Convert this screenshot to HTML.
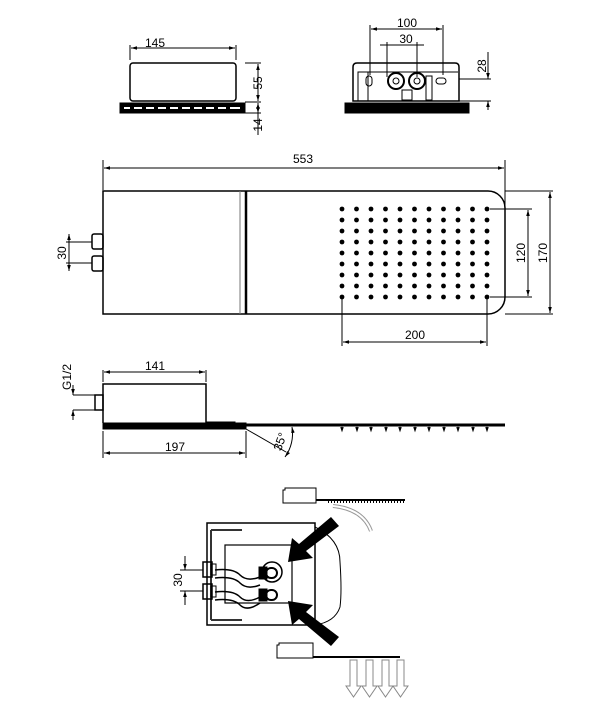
<!DOCTYPE html>
<html><head><meta charset="utf-8"><style>
html,body{margin:0;padding:0;background:#fff;}
svg{display:block}
text{font-family:"Liberation Sans",sans-serif;font-size:12px;fill:#000}
</style></head><body>
<svg width="601" height="718" viewBox="0 0 601 718" xmlns="http://www.w3.org/2000/svg">
<defs>
<marker id="a" viewBox="0 0 10 10" refX="10" refY="5" markerWidth="6" markerHeight="6" orient="auto-start-reverse"><path d="M0,2 L10,5 L0,8 z" fill="#000"/></marker>
<pattern id="dots" x="342" y="209" width="14.5" height="11" patternUnits="userSpaceOnUse"><circle cx="0" cy="0" r="2.4" fill="#000"/><circle cx="14.5" cy="0" r="2.4" fill="#000"/><circle cx="0" cy="11" r="2.4" fill="#000"/><circle cx="14.5" cy="11" r="2.4" fill="#000"/></pattern>
</defs>
<g fill="none" stroke="#000" stroke-width="1">
<rect x="130" y="63" width="106" height="38" rx="3" stroke-width="1.5"/>
<rect x="120" y="103" width="125" height="10" fill="#000"/>
<g stroke="#fff" stroke-width="2"><path d="M124 108h6M134 108h8M146 108h8M158 108h8M170 108h8M182 108h8M194 108h8M206 108h8M218 108h8M230 108h10"/></g>
<path d="M130 45v15M236 45v15M245 63h16M245 102h16M245 113h16"/>
<path d="M131 48H235" marker-start="url(#a)" marker-end="url(#a)"/>
<path d="M258 64V101" marker-start="url(#a)" marker-end="url(#a)"/>
<path d="M258 103V113" marker-start="url(#a)" marker-end="url(#a)"/>
<path d="M258 113V135"/>
<path d="M353 101V67q0-4 4-4h98q4 0 4 4V101Z" stroke-width="1.5"/>
<path d="M358 101V72h100M368 101V72"/>
<rect x="345" y="103" width="124" height="10" fill="#000"/>
<rect x="366" y="76" width="6" height="10" rx="3"/>
<rect x="436" y="78" width="10" height="6" rx="3"/>
<circle cx="396" cy="81" r="8" stroke-width="2"/><circle cx="396" cy="81" r="3"/>
<circle cx="417" cy="81" r="8" stroke-width="2"/><circle cx="417" cy="81" r="3"/>
<rect x="402" y="90" width="10" height="10"/><rect x="426" y="76" width="6" height="24"/>
<path d="M370 25v50M443 25v50M387 42v35M417 42v35M459 79h32M459 101h32"/>
<path d="M371 29H442" marker-start="url(#a)" marker-end="url(#a)"/>
<path d="M380 45H424"/>
<path d="M488 52V79M488 101V108"/>
<path d="M488 70V79" marker-end="url(#a)"/><path d="M488 110V101" marker-end="url(#a)"/>
<path d="M103 191H488a17 17 0 0 1 17 17V297a17 17 0 0 1-17 17H103Z" stroke-width="1.5"/>
<path d="M240 191V314" stroke="#777"/><path d="M246 191V314" stroke-width="2.5"/>
<rect x="92" y="234" width="11" height="15" rx="2" stroke-width="1.5"/>
<rect x="92" y="256" width="11" height="15" rx="2" stroke-width="1.5"/>
<path d="M103 160v30M505 160v45M66 242h26M66 263h26M490 209h42M490 297h42M505 191h48M505 314h48M342 298v48M487 298v48"/>
<path d="M104 168H504" marker-start="url(#a)" marker-end="url(#a)"/>
<path d="M69 234V271" marker-start="url(#a)" marker-end="url(#a)"/>
<path d="M528 210V296" marker-start="url(#a)" marker-end="url(#a)"/>
<path d="M550 192V313" marker-start="url(#a)" marker-end="url(#a)"/>
<path d="M343 342H486" marker-start="url(#a)" marker-end="url(#a)"/>
<path d="M103 423V384H206V423" stroke-width="1.5"/>
<rect x="95" y="395" width="8" height="15" stroke-width="1.5"/>
<rect x="103" y="423" width="143" height="6" fill="#000"/>
<path d="M206 422H235V424" />
<path d="M246 425H505" stroke-width="3"/>
<path d="M246 429L286 452"/>
<path d="M103 370v12M206 370v12M103 431v27M246 431v27M73 395h22M73 410h22"/>
<path d="M104 372H205" marker-start="url(#a)" marker-end="url(#a)"/>
<path d="M104 453H245" marker-start="url(#a)" marker-end="url(#a)"/>
<path d="M73 385V395" marker-end="url(#a)"/><path d="M73 420V410" marker-end="url(#a)"/>
<path d="M292 427A40 40 0 0 1 285 457" marker-start="url(#a)" marker-end="url(#a)"/>
<g stroke-width="1.5"><path d="M341 427l1 3l1-3M356 427l1 3l1-3M370 427l1 3l1-3M385 427l1 3l1-3M399 427l1 3l1-3M414 427l1 3l1-3M428 427l1 3l1-3M443 427l1 3l1-3M457 427l1 3l1-3M472 427l1 3l1-3M486 427l1 3l1-3"/></g>
<path d="M283 503V490h2v-2h31V503Z"/><path d="M316 500H405" stroke-width="2"/><path d="M328 502H405" stroke-dasharray="1 2" stroke-width="2"/>
<path d="M333 506q30 3 38 25" stroke="#999" stroke-width="4"/><path d="M333 506q30 3 38 25" stroke="#fff" stroke-width="2"/>
<rect x="207" y="523" width="108" height="102" stroke-width="1.5"/>
<path d="M211 530H242M211 620H242M211 530V620" stroke="#333" stroke-width="2"/>
<rect x="225" y="545" width="67" height="58" stroke-width="1.2"/>
<path d="M315 527q25 12 25 35q2 30 0 45q-5 15-25 18"/>
<circle cx="272" cy="572" r="10" stroke-width="1.5"/>
<path d="M215 570q18-2 25 5t20 2M215 578q18-2 25 5t20 2" stroke-width="1.5"/>
<path d="M215 592q18-2 25 5t20 0M215 600q18-2 25 5t20-2" stroke-width="1.5"/>
<rect x="259" y="567" width="8" height="12" fill="#000"/><rect x="266" y="568" width="11" height="10" rx="5" stroke-width="2"/>
<rect x="259" y="589" width="8" height="12" fill="#000"/><rect x="266" y="590" width="11" height="10" rx="5" stroke-width="2"/>
<rect x="203" y="562" width="9" height="15" stroke-width="1.5"/><rect x="211" y="564" width="5" height="11"/>
<rect x="203" y="584" width="9" height="15" stroke-width="1.5"/><rect x="211" y="586" width="5" height="11"/>
<path d="M185 556v12M185 593v12M180 570h23M180 591h23"/>
<path d="M185 560V570" marker-end="url(#a)"/><path d="M185 601V591" marker-end="url(#a)"/>
<path d="M277 658V645h2v-2h34V658Z"/><path d="M313 657H400" stroke-width="2"/>
</g>
<path d="M331 517L339 526L306 551L313 558L288 562L292 538L299 544Z" fill="#000"/>
<path d="M331 646L339 637L306 612L313 605L288 601L292 625L299 619Z" fill="#000"/>
<g fill="#fff" stroke="#888" stroke-width="1">
<path d="M350 660h7v26h4l-7.5 11l-7.5-11h4Z"/><path d="M366 660h7v26h4l-7.5 11l-7.5-11h4Z"/><path d="M382 660h7v26h4l-7.5 11l-7.5-11h4Z"/><path d="M397 660h7v26h4l-7.5 11l-7.5-11h4Z"/>
</g>
<rect x="339" y="205" width="152" height="96" fill="url(#dots)"/>
<text x="155" y="47" text-anchor="middle">145</text>
<text x="407" y="27" text-anchor="middle">100</text>
<text x="406" y="43" text-anchor="middle">30</text>
<text transform="translate(262 83) rotate(-90)" text-anchor="middle">55</text>
<text transform="translate(262 125) rotate(-90)" text-anchor="middle">14</text>
<text transform="translate(486 66) rotate(-90)" text-anchor="middle">28</text>
<text x="303" y="163" text-anchor="middle">553</text>
<text transform="translate(66 253) rotate(-90)" text-anchor="middle">30</text>
<text transform="translate(525 253) rotate(-90)" text-anchor="middle">120</text>
<text transform="translate(547 253) rotate(-90)" text-anchor="middle">170</text>
<text x="415" y="339" text-anchor="middle">200</text>
<text x="155" y="370" text-anchor="middle">141</text>
<text x="175" y="451" text-anchor="middle">197</text>
<text transform="translate(71 377) rotate(-90)" text-anchor="middle">G1/2</text>
<text transform="translate(284 443) rotate(-70)" text-anchor="middle">35°</text>
<text transform="translate(182 580) rotate(-90)" text-anchor="middle">30</text>
</svg>
</body></html>
